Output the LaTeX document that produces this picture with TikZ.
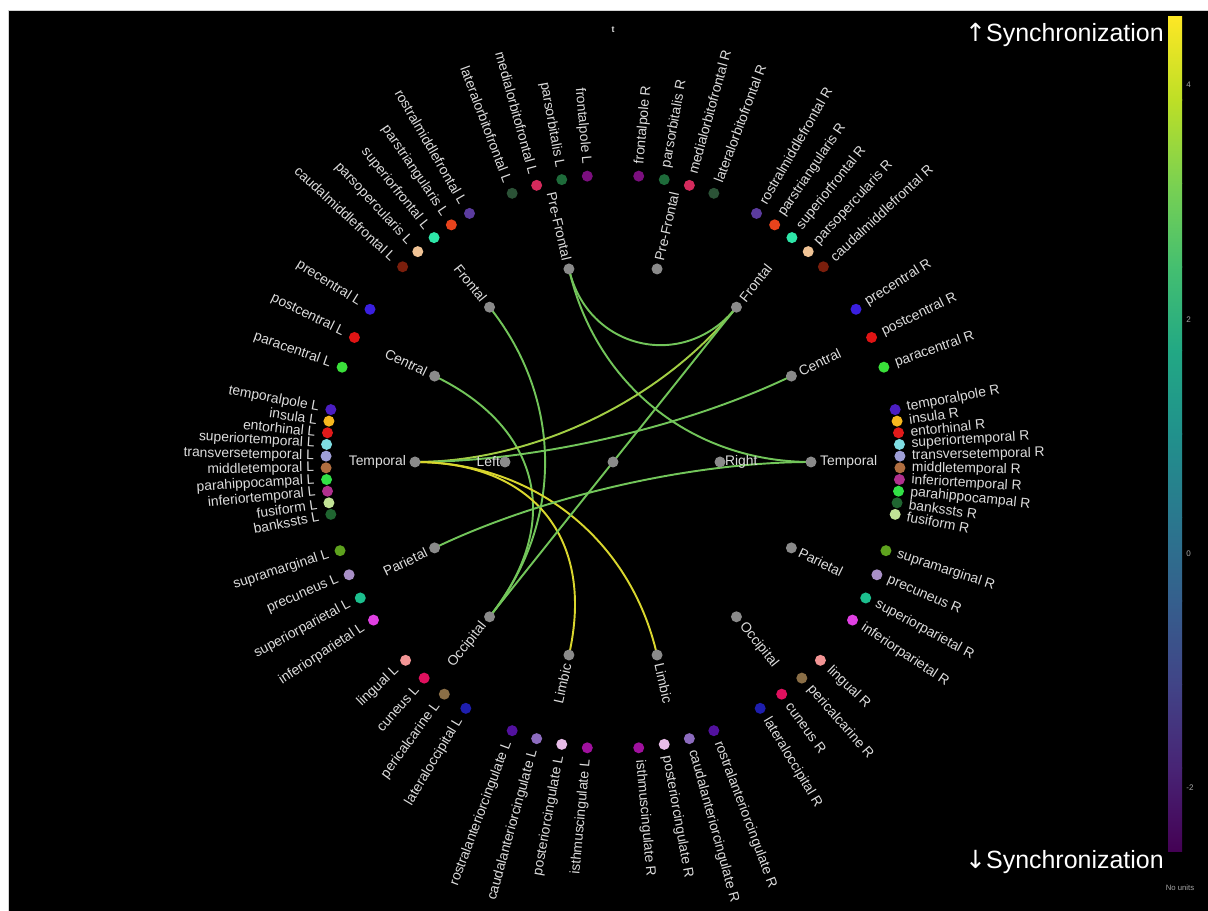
\documentclass[tikz,border=0pt]{standalone}
\usepackage{fontspec}
\setmainfont{Liberation Sans}
\newfontfamily\symfont{DejaVu Sans}
\usetikzlibrary{calc}
\pgfdeclarelayer{back}
\pgfdeclarelayer{bg}
\pgfsetlayers{back,bg,main}
% region colours
\definecolor{frontalpole}{HTML}{7B0F7E}
\definecolor{parsorbitalis}{HTML}{1E6B3A}
\definecolor{medialorbitofrontal}{HTML}{D42A5C}
\definecolor{lateralorbitofrontal}{HTML}{2B5236}
\definecolor{rostralmiddlefrontal}{HTML}{5B3B9E}
\definecolor{parstriangularis}{HTML}{E8431C}
\definecolor{superiorfrontal}{HTML}{2EE6A8}
\definecolor{parsopercularis}{HTML}{F0C395}
\definecolor{caudalmiddlefrontal}{HTML}{7A1E0C}
\definecolor{precentral}{HTML}{3A1FE0}
\definecolor{postcentral}{HTML}{E01414}
\definecolor{paracentral}{HTML}{3AE03A}
\definecolor{temporalpole}{HTML}{4B1EC2}
\definecolor{insula}{HTML}{F7B81E}
\definecolor{entorhinal}{HTML}{E01A1A}
\definecolor{superiortemporal}{HTML}{7FDDE2}
\definecolor{transversetemporal}{HTML}{9E9ED6}
\definecolor{middletemporal}{HTML}{B06E40}
\definecolor{parahippocampal}{HTML}{32E046}
\definecolor{inferiortemporal}{HTML}{B0308E}
\definecolor{fusiform}{HTML}{C2E396}
\definecolor{bankssts}{HTML}{1F6530}
\definecolor{supramarginal}{HTML}{5EA21E}
\definecolor{precuneus}{HTML}{A88FC6}
\definecolor{superiorparietal}{HTML}{1CBF8E}
\definecolor{inferiorparietal}{HTML}{E040E2}
\definecolor{lingual}{HTML}{F29494}
\definecolor{cuneus}{HTML}{E0105E}
\definecolor{pericalcarine}{HTML}{8A6E46}
\definecolor{lateraloccipital}{HTML}{1E1EAE}
\definecolor{rostralanteriorcingulate}{HTML}{52119E}
\definecolor{caudalanteriorcingulate}{HTML}{8C6BBE}
\definecolor{posteriorcingulate}{HTML}{E8BCE8}
\definecolor{isthmuscingulate}{HTML}{A0119E}
% other colours
\definecolor{labc}{HTML}{DCDCDC}
\definecolor{dotgray}{HTML}{8A8A8A}
\definecolor{eg}{HTML}{72C55A}
\definecolor{eyg}{HTML}{A2CE44}
\definecolor{ey}{HTML}{D9D62E}
\definecolor{v0}{HTML}{440154}
\definecolor{v1}{HTML}{482475}
\definecolor{v2}{HTML}{414487}
\definecolor{v3}{HTML}{355F8D}
\definecolor{v4}{HTML}{2A788E}
\definecolor{v5}{HTML}{21918C}
\definecolor{v6}{HTML}{22A884}
\definecolor{v7}{HTML}{44BF70}
\definecolor{v8}{HTML}{7AD151}
\definecolor{v9}{HTML}{BDDF26}
\definecolor{v10}{HTML}{FDE725}
% region groups
\newcommand\grpL[3]{\foreach \c [count=\i] in {#3} {
  \pgfmathsetmacro\ang{#1+(\i-(#2+1)/2)*25.7142857/(#2+1)}
  \pgfmathsetmacro\rot{\ang-180}
  \node[rdot, fill=\c] (\c-L) at (\ang:287) {};
  \node[rlab, anchor=east, rotate=\rot] (\c-L-lab) at (\ang:297) {\c\ L};
}}
\newcommand\grpR[3]{\foreach \c [count=\i] in {#3} {
  \pgfmathsetmacro\ang{#1+(\i-(#2+1)/2)*25.7142857/(#2+1)}
  \node[rdot, fill=\c] (\c-R) at (\ang:287) {};
  \node[rlab, anchor=west, rotate=\ang] (\c-R-lab) at (\ang:297) {\c\ R};
}}
\newcommand\lobeL[3]{%
  \pgfmathsetmacro\rot{#2-180}
  \node[ldot] (#1) at (#2:198) {};
  \node[llab, anchor=east, rotate=\rot] (#1-lab) at (#2:205) {#3};}
\newcommand\lobeR[3]{%
  \node[ldot] (#1) at (#2:198) {};
  \node[llab, anchor=west, rotate=#2] (#1-lab) at (#2:205) {#3};}
\newcommand\edge[4][0.6]{\draw[link, #4] (#2.center) .. controls ($(#2)!#1!(root)$) and ($(#3)!#1!(root)$) .. (#3.center);}
\begin{document}
\begin{tikzpicture}[x=0.02cm, y=0.02cm,
  rdot/.style={circle, inner sep=0pt, minimum size=0.22cm, draw=none},
  ldot/.style={circle, inner sep=0pt, minimum size=0.22cm, fill=dotgray},
  rlab/.style={text=labc, font=\fontsize{7.9}{9}\selectfont, inner sep=1pt},
  llab/.style={text=labc, font=\fontsize{7.9}{9}\selectfont, inner sep=1pt},
  link/.style={line width=1.1pt},
  tick/.style={text=gray!70, font=\fontsize{4.6}{5}\selectfont, inner sep=0pt, anchor=west},
  sync/.style={text=white, font=\fontsize{14.2}{16}\selectfont, inner sep=0pt, anchor=east}]
\useasboundingbox (0,0) rectangle (1208,911);
\begin{pgfonlayer}{back}
\fill[white] (0,0) rectangle (1208,911);
\fill[black] (8,0) rectangle (1208,901);
\draw[gray!35, line width=0.4pt] (8,0) -- (8,901) -- (1208,901);
\end{pgfonlayer}
\node[text=labc, font=\fontsize{5}{6}\selectfont\bfseries, inner sep=0pt] (title) at (613,881) {t};
\begin{scope}[shift={(613,449)}]
  % hierarchy nodes
  \node[ldot] (root) at (0,0) {};
  \node[ldot] (left) at (-108,0) {};
  \node[ldot] (right) at (107,0) {};
  \node[llab, anchor=east] (left-lab) at (-111,0) {Left};
  \node[llab, anchor=west] (right-lab) at (110,0) {Right};
  % lobes
  \lobeR{teR}{0}{Temporal}
  \lobeR{ceR}{25.7142857}{Central}
  \lobeR{frR}{51.4285714}{Frontal}
  \lobeR{pfR}{77.1428571}{Pre-Frontal}
  \lobeL{pfL}{102.857143}{Pre-Frontal}
  \lobeL{frL}{128.571429}{Frontal}
  \lobeL{ceL}{154.285714}{Central}
  \lobeL{teL}{180}{Temporal}
  \lobeL{paL}{205.714286}{Parietal}
  \lobeL{ocL}{231.428571}{Occipital}
  \lobeL{liL}{257.142857}{Limbic}
  \lobeR{liR}{282.857143}{Limbic}
  \lobeR{ocR}{308.571429}{Occipital}
  \lobeR{paR}{334.285714}{Parietal}
  % regions, left
  \grpL{102.857143}{4}{frontalpole,parsorbitalis,medialorbitofrontal,lateralorbitofrontal}
  \grpL{128.571429}{5}{rostralmiddlefrontal,parstriangularis,superiorfrontal,parsopercularis,caudalmiddlefrontal}
  \grpL{154.285714}{3}{precentral,postcentral,paracentral}
  \grpL{180}{10}{temporalpole,insula,entorhinal,superiortemporal,transversetemporal,middletemporal,parahippocampal,inferiortemporal,fusiform,bankssts}
  \grpL{205.714286}{4}{supramarginal,precuneus,superiorparietal,inferiorparietal}
  \grpL{231.428571}{4}{lingual,cuneus,pericalcarine,lateraloccipital}
  \grpL{257.142857}{4}{rostralanteriorcingulate,caudalanteriorcingulate,posteriorcingulate,isthmuscingulate}
  % regions, right
  \grpR{282.857143}{4}{isthmuscingulate,posteriorcingulate,caudalanteriorcingulate,rostralanteriorcingulate}
  \grpR{308.571429}{4}{lateraloccipital,cuneus,pericalcarine,lingual}
  \grpR{334.285714}{4}{inferiorparietal,superiorparietal,precuneus,supramarginal}
  \grpR{360}{10}{fusiform,bankssts,parahippocampal,inferiortemporal,middletemporal,transversetemporal,superiortemporal,entorhinal,insula,temporalpole}
  \grpR{25.7142857}{3}{paracentral,postcentral,precentral}
  \grpR{51.4285714}{5}{caudalmiddlefrontal,parsopercularis,superiorfrontal,parstriangularis,rostralmiddlefrontal}
  \grpR{77.1428571}{4}{lateralorbitofrontal,medialorbitofrontal,parsorbitalis,frontalpole}
\end{scope}
% connections
\begin{pgfonlayer}{bg}
  \edge[0.42]{pfL}{frR}{eg}
  \edge{pfL}{teR}{eg}
  \edge{frL}{ocL}{eg}
  \edge{ceL}{ocL}{eg}
  \edge{teL}{frR}{eyg}
  \edge{teL}{ceR}{eg}
  \edge{teL}{liL}{ey}
  \edge{teL}{liR}{ey}
  \edge{paL}{teR}{eg}
  \edge{ocL}{frR}{eg}
\end{pgfonlayer}
% colour bar
\foreach \a/\b [count=\k from 0] in {v0/v1,v1/v2,v2/v3,v3/v4,v4/v5,v5/v6,v6/v7,v7/v8,v8/v9,v9/v10} {
  \pgfmathsetmacro\ya{59+\k*83.5}
  \pgfmathsetmacro\yb{\ya+84}
  \shade[bottom color=\a, top color=\b] (1168,\ya) rectangle (1182,\yb);
}
\node[tick] (t4) at (1186,826) {4};
\node[tick] (t2) at (1186,591) {2};
\node[tick] (t0) at (1186,357) {0};
\node[tick] (tm2) at (1186,123) {-2};
\node[text=gray!70, font=\fontsize{4.4}{5}\selectfont, inner sep=0pt] (nounits) at (1180,23) {No units};
\node[sync] (syncup) at (1164,876) {{\symfont ↑}Synchronization};
\node[sync] (syncdown) at (1164,49) {{\symfont ↓}Synchronization};
\end{tikzpicture}
\end{document}
